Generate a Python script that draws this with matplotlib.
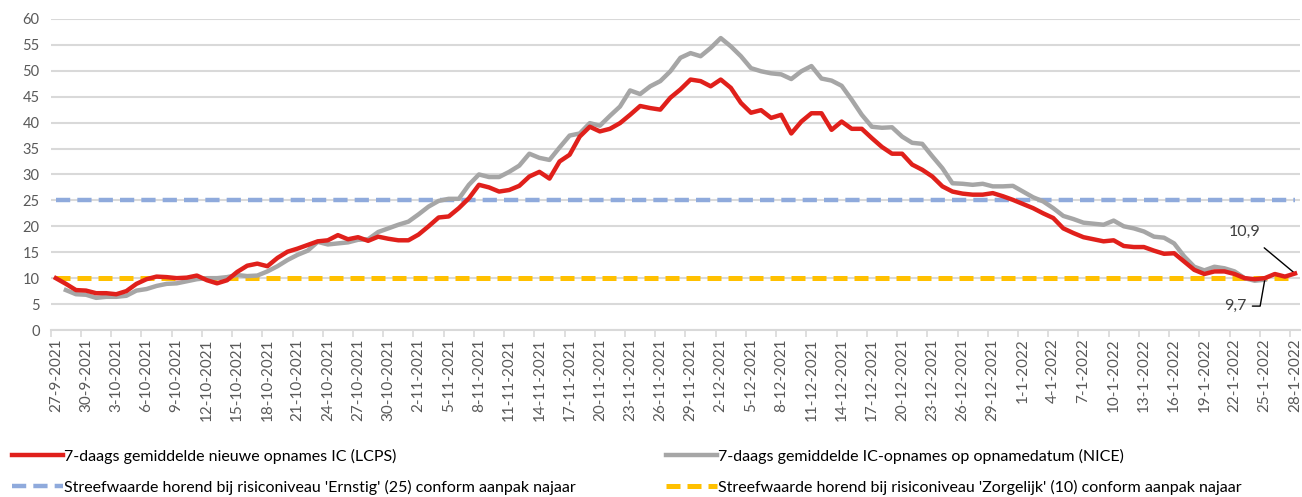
import numpy as np
import pandas as pd
import matplotlib
matplotlib.use("Agg")
import matplotlib.pyplot as plt

plt.rcParams['font.family'] = ['Lato', 'DejaVu Sans']

dates = pd.date_range("2021-09-27", "2022-01-28", freq="D")
labels = [f"{d.day}-{d.month}-{d.year}" for d in dates]

# 7-daags gemiddelde nieuwe opnames IC (LCPS), 27-9-2021 .. 28-1-2022
lcps = [10.0, 8.9, 7.7, 7.6, 7.1, 7.1, 6.9, 7.5, 8.9, 9.8,
        10.3, 10.2, 10.0, 10.1, 10.5, 9.6, 9.0, 9.6, 11.2, 12.4,
        12.8, 12.3, 13.9, 15.1, 15.7, 16.4, 17.1, 17.3, 18.3, 17.5,
        17.9, 17.2, 18.0, 17.6, 17.3, 17.3, 18.4, 20.0, 21.7, 21.9,
        23.5, 25.4, 28.0, 27.5, 26.7, 27.0, 27.8, 29.6, 30.5, 29.2,
        32.5, 33.8, 37.3, 39.2, 38.3, 38.8, 39.9, 41.5, 43.2, 42.8,
        42.5, 44.8, 46.4, 48.3, 48.0, 47.0, 48.3, 46.7, 43.8, 41.9,
        42.4, 40.9, 41.5, 37.9, 40.2, 41.8, 41.8, 38.6, 40.2, 38.8,
        38.8, 37.0, 35.3, 34.0, 34.0, 31.9, 30.9, 29.6, 27.7, 26.7,
        26.3, 26.1, 26.1, 26.4, 25.8, 25.1, 24.3, 23.5, 22.5, 21.6,
        19.6, 18.7, 17.9, 17.5, 17.1, 17.3, 16.2, 16.0, 16.0, 15.3,
        14.7, 14.8, 13.2, 11.6, 10.8, 11.3, 11.3, 10.8, 10.0, 9.8,
        10.0, 10.8, 10.3, 10.9]

# 7-daags gemiddelde IC-opnames op opnamedatum (NICE), 28-9-2021 .. 25-1-2022
nice = [np.nan,
        7.7, 6.9, 6.8, 6.2, 6.4, 6.4, 6.6, 7.6, 7.9,
        8.5, 8.9, 9.0, 9.4, 9.8, 10.0, 10.0, 10.2, 10.6, 10.4,
        10.5, 11.3, 12.3, 13.5, 14.5, 15.3, 17.0, 16.5, 16.7, 16.9,
        17.4, 17.5, 18.9, 19.6, 20.3, 20.9, 22.3, 23.8, 24.9, 25.3,
        25.3, 28.0, 30.0, 29.5, 29.5, 30.5, 31.7, 34.0, 33.2, 32.8,
        35.2, 37.5, 37.9, 39.9, 39.4, 41.3, 43.1, 46.2, 45.5, 47.0,
        48.0, 49.9, 52.5, 53.4, 52.8, 54.4, 56.3, 54.7, 52.8, 50.5,
        49.9, 49.5, 49.3, 48.4, 49.9, 50.9, 48.5, 48.1, 47.1, 44.4,
        41.5, 39.2, 39.0, 39.1, 37.3, 36.1, 35.9, 33.5, 31.2, 28.3,
        28.2, 28.0, 28.2, 27.7, 27.7, 27.8, 26.7, 25.6, 24.8, 23.5,
        22.0, 21.4, 20.7, 20.5, 20.3, 21.1, 20.0, 19.6, 19.0, 18.0,
        17.8, 16.7, 14.2, 12.2, 11.5, 12.2, 11.9, 11.3, 10.0, 9.5,
        9.7, np.nan, np.nan, np.nan]

ernstig = 25
zorgelijk = 10

x = np.arange(len(dates))

fig = plt.figure(figsize=(13.02, 4.97), dpi=100)
ax = fig.add_axes([0.039, 0.336, 0.9595, 0.626])

l_red, = ax.plot(x, lcps, color='#e0201b', lw=3.2, label='7-daags gemiddelde nieuwe opnames IC (LCPS)', zorder=4)
l_gray, = ax.plot(x, nice, color='#a6a6a6', lw=3.2, label='7-daags gemiddelde IC-opnames op opnamedatum (NICE)', zorder=3)
l_blue, = ax.plot(x, [ernstig] * len(x), color='#8faadc', lw=3.2, dashes=(3.2, 1.6),
                  label="Streefwaarde horend bij risiconiveau 'Ernstig' (25) conform aanpak najaar", zorder=2)
l_yel, = ax.plot(x, [zorgelijk] * len(x), color='#ffc000', lw=3.6, dashes=(2.8, 1.4),
                 label="Streefwaarde horend bij risiconiveau 'Zorgelijk' (10) conform aanpak najaar", zorder=2)

ax.set_xlim(-0.5, len(x) - 0.5)
ax.set_ylim(0, 60)
ax.set_yticks(range(0, 61, 5))
ax.grid(axis='y', color='#d9d9d9', lw=1.5)
ax.set_axisbelow(True)

ax.set_xticks(x[::3])
ax.set_xticklabels(labels[::3], rotation=90)
ax.set_xticks(np.arange(-0.5, len(x), 3), minor=True)
ax.tick_params(axis='x', which='major', length=0, pad=6, labelsize=11, labelcolor='#595959')
ax.tick_params(axis='x', which='minor', length=5, color='#d9d9d9', width=1.2)
ax.tick_params(axis='y', length=0, pad=8, labelsize=10.5, labelcolor='#595959')
for s in ['top', 'right', 'left']:
    ax.spines[s].set_visible(False)
ax.spines['bottom'].set_color('#d9d9d9')
ax.spines['bottom'].set_linewidth(1.5)

ax.annotate('10,9', xy=(x[-1], lcps[-1]), xytext=(-36, 30), textcoords='offset points',
            ha='center', va='center', fontsize=11.5, color='#404040',
            arrowprops=dict(arrowstyle='-', color='black', lw=1.0, shrinkA=7, shrinkB=0))
ax.annotate('9,7', xy=(120, nice[120]), xytext=(-21, -19), textcoords='offset points',
            ha='center', va='center', fontsize=11.5, color='#404040',
            arrowprops=dict(arrowstyle='-', color='black', lw=1.0, shrinkA=2, shrinkB=0,
                            connectionstyle='angle,angleA=0,angleB=80,rad=0'))

fig.legend(handles=[l_red, l_blue, l_gray, l_yel], loc='lower left', bbox_to_anchor=(-0.002, -0.025),
           ncol=2, frameon=False, fontsize=11.5, handlelength=3.2, handletextpad=0.1,
           columnspacing=5.6, labelspacing=1.0)

fig.savefig('out.png', dpi=100)
